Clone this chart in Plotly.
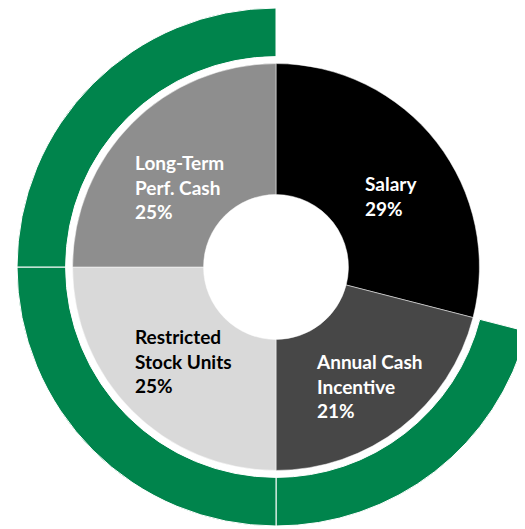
import plotly.graph_objects as go

# pay mix (inner ring)
components = ["Salary", "Annual Cash<br>Incentive", "Restricted<br>Stock Units", "Long-Term<br>Perf. Cash"]
shares = [29, 21, 25, 25]
# outer ring: performance-based pay wraps everything but salary
performance_based = [False, True, True, True]

# the page puts the plot 8px in from the corner; the ring runs past the window edge
W, H = 560, 560
GREEN = "#00844c"
SLICE_COLORS = ["#000000", "#474747", "#d9d9d9", "#8e8e8e"]
TEXT_COLORS = ["white", "white", "black", "white"]

# geometry in figure pixels (reference: centre 276,267 on screen, outer radius ~260)
R = 259
cx, cy = 268, 259
scale = R / 261
r_inner = 205 * scale


def _domain(radius):
    return dict(
        x=[(cx - radius) / W, (cx + radius) / W],
        y=[max(0, 1 - (cy + radius) / H), min(1, 1 - (cy - radius) / H)],
    )


fig = go.Figure()

fig.add_trace(
    go.Pie(
        values=shares,
        labels=components,
        sort=False,
        direction="clockwise",
        rotation=0,
        hole=212 / 261,
        domain=_domain(R),
        marker=dict(
            colors=[GREEN if p else "rgba(0,0,0,0)" for p in performance_based],
            line=dict(color="white", width=1),
        ),
        textinfo="none",
        hoverinfo="skip",
        showlegend=False,
    )
)

fig.add_trace(
    go.Pie(
        values=shares,
        labels=components,
        sort=False,
        direction="clockwise",
        rotation=0,
        hole=73 / 205,
        domain=_domain(r_inner),
        marker=dict(colors=SLICE_COLORS, line=dict(color="white", width=0.5)),
        textinfo="none",
        showlegend=False,
    )
)

# label anchors: left edge / vertical middle, offset from the centre (ref px)
label_offsets = [(88, -72), (38, 120), (-144, 95), (-144, -81)]
for name, share, (dx, dy), color in zip(components, shares, label_offsets, TEXT_COLORS):
    fig.add_annotation(
        x=(cx + dx * scale) / W,
        y=1 - (cy + dy * scale) / H,
        xref="paper",
        yref="paper",
        xanchor="left",
        yanchor="middle",
        align="left",
        showarrow=False,
        text=f"<b>{name}<br>{share}%</b>",
        font=dict(family="Lato", size=19, color=color),
    )

fig.update_layout(
    width=W,
    height=H,
    margin=dict(l=0, r=0, t=0, b=0),
    paper_bgcolor="white",
    plot_bgcolor="white",
)

fig.write_html("out.html")
